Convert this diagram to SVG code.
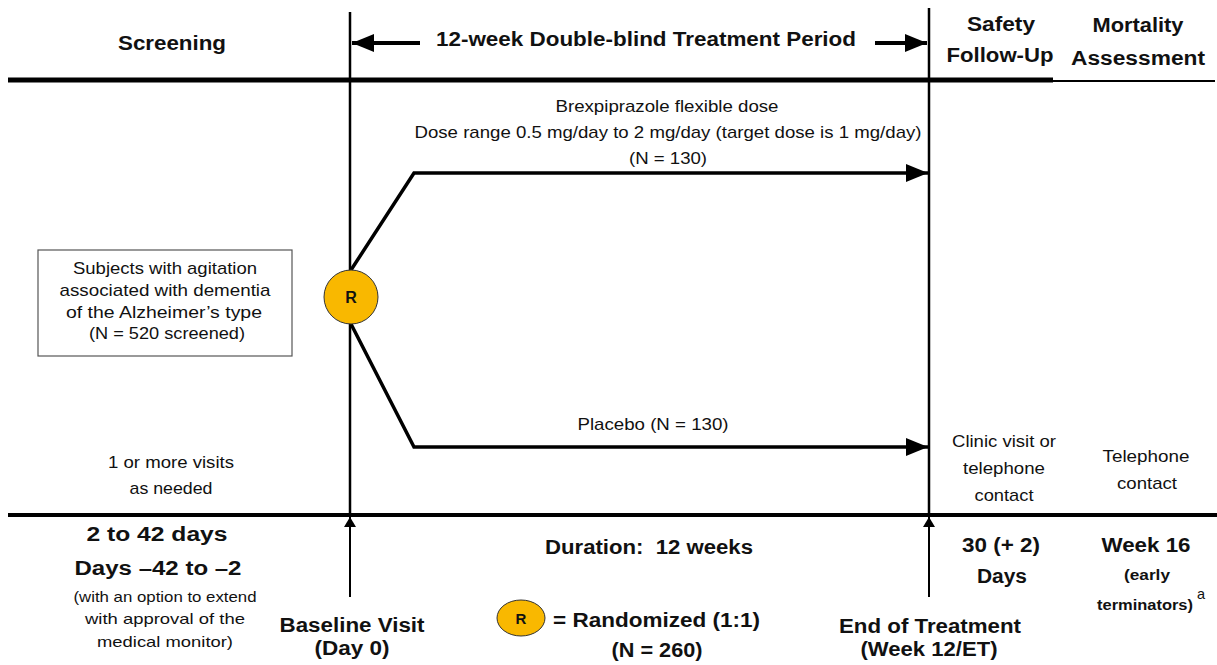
<svg xmlns="http://www.w3.org/2000/svg" width="1217" height="665" viewBox="0 0 1217 665">
<style>
text{font-family:"Liberation Sans",Arial,sans-serif;fill:#111;text-anchor:middle}
.b{font-weight:bold}
.h{font-size:20px;font-weight:bold}
.r{font-size:17px}
.s{font-size:14.5px}
.ln{stroke:#000;fill:none}
</style>
<defs>
<marker id="ah" markerWidth="22" markerHeight="18" refX="22" refY="9" orient="auto" markerUnits="userSpaceOnUse">
<path d="M0,0 L22,9 L0,18 Z" fill="#000"/>
</marker>
<marker id="as" markerWidth="10" markerHeight="12" refX="10" refY="6" orient="auto" markerUnits="userSpaceOnUse">
<path d="M0,0 L10,6 L0,12 Z" fill="#000"/>
</marker>
</defs>
<g id="frame">
<line class="ln" x1="8" y1="80" x2="1053" y2="80" stroke-width="5"/>
<line class="ln" x1="1053" y1="81" x2="1215" y2="81" stroke-width="2" stroke="#333"/>
<line class="ln" x1="8" y1="515" x2="1217" y2="515" stroke-width="4"/>
<line class="ln" x1="350" y1="12" x2="350" y2="515" stroke-width="2.5"/>
<line class="ln" x1="929" y1="8" x2="929" y2="515" stroke-width="2.5"/>
</g>
<g id="connectors">
<line class="ln" x1="420" y1="43" x2="352" y2="43" stroke-width="4" marker-end="url(#ah)"/>
<line class="ln" x1="875" y1="43" x2="927" y2="43" stroke-width="4" marker-end="url(#ah)"/>
<polyline class="ln" points="351,270 414,173 928,173" stroke-width="3.5" marker-end="url(#ah)"/>
<polyline class="ln" points="351,324 414,447 928,447" stroke-width="3.5" marker-end="url(#ah)"/>
<line class="ln" x1="350" y1="597" x2="350" y2="517" stroke-width="2" marker-end="url(#as)"/>
<line class="ln" x1="929" y1="597" x2="929" y2="517" stroke-width="2" marker-end="url(#as)"/>
</g>
<g id="header">
<text class="h" x="172" y="50" textLength="108" lengthAdjust="spacingAndGlyphs">Screening</text>
<text class="h" x="646" y="46" textLength="420" lengthAdjust="spacingAndGlyphs">12-week Double-blind Treatment Period</text>
<text class="h" x="1001" y="31" textLength="68" lengthAdjust="spacingAndGlyphs">Safety</text>
<text class="h" x="1000" y="62" textLength="107" lengthAdjust="spacingAndGlyphs">Follow-Up</text>
<text class="h" x="1138" y="32" textLength="91" lengthAdjust="spacingAndGlyphs">Mortality</text>
<text class="h" x="1138" y="65" textLength="134" lengthAdjust="spacingAndGlyphs">Assessment</text>
</g>
<g id="randomization">
<circle cx="351" cy="297" r="27" fill="#F9B800" stroke="#333" stroke-width="1"/>
<text class="b" x="351" y="303" font-size="16">R</text>
</g>
<g id="brex-arm">
<text class="r" x="667" y="112" textLength="223" lengthAdjust="spacingAndGlyphs">Brexpiprazole flexible dose</text>
<text class="r" x="668" y="138" textLength="507" lengthAdjust="spacingAndGlyphs">Dose range 0.5 mg/day to 2 mg/day (target dose is 1 mg/day)</text>
<text class="r" x="668" y="164" textLength="78" lengthAdjust="spacingAndGlyphs">(N = 130)</text>
</g>
<g id="placebo-arm">
<text class="r" x="653" y="430" textLength="151" lengthAdjust="spacingAndGlyphs">Placebo (N = 130)</text>
</g>
<g id="subjects">
<rect x="38" y="250" width="254" height="106" fill="#fff" stroke="#555" stroke-width="1.2"/>
<text class="r" x="165" y="274" textLength="184" lengthAdjust="spacingAndGlyphs">Subjects with agitation</text>
<text class="r" x="165" y="296" textLength="211" lengthAdjust="spacingAndGlyphs">associated with dementia</text>
<text class="r" x="164" y="318" textLength="196" lengthAdjust="spacingAndGlyphs">of the Alzheimer’s type</text>
<text class="r" x="167" y="339" textLength="156" lengthAdjust="spacingAndGlyphs">(N = 520 screened)</text>
</g>
<g id="visits">
<text class="r" x="171" y="468" textLength="126" lengthAdjust="spacingAndGlyphs">1 or more visits</text>
<text class="r" x="171" y="494" textLength="83" lengthAdjust="spacingAndGlyphs">as needed</text>
</g>
<g id="safety-contact">
<text class="r" x="1004" y="447" textLength="104" lengthAdjust="spacingAndGlyphs">Clinic visit or</text>
<text class="r" x="1004" y="474" textLength="82" lengthAdjust="spacingAndGlyphs">telephone</text>
<text class="r" x="1004" y="501" textLength="59" lengthAdjust="spacingAndGlyphs">contact</text>
</g>
<g id="mortality-contact">
<text class="r" x="1146" y="462" textLength="87" lengthAdjust="spacingAndGlyphs">Telephone</text>
<text class="r" x="1147" y="489" textLength="60" lengthAdjust="spacingAndGlyphs">contact</text>
</g>
<g id="screening-duration">
<text class="h" x="157" y="541" textLength="141" lengthAdjust="spacingAndGlyphs">2 to 42 days</text>
<text class="h" x="158" y="575" textLength="167" lengthAdjust="spacingAndGlyphs">Days –42 to –2</text>
<text class="s" x="165" y="602" textLength="183" lengthAdjust="spacingAndGlyphs">(with an option to extend</text>
<text class="s" x="165" y="624" textLength="160" lengthAdjust="spacingAndGlyphs">with approval of the</text>
<text class="s" x="165" y="647" textLength="136" lengthAdjust="spacingAndGlyphs">medical monitor)</text>
</g>
<g id="baseline">
<text class="h" x="352" y="632" textLength="145" lengthAdjust="spacingAndGlyphs">Baseline Visit</text>
<text class="h" x="352" y="655" textLength="75" lengthAdjust="spacingAndGlyphs">(Day 0)</text>
</g>
<g id="duration">
<text class="h" x="649" y="554" textLength="208" lengthAdjust="spacingAndGlyphs" xml:space="preserve">Duration:  12 weeks</text>
</g>
<g id="legend">
<ellipse cx="521" cy="618" rx="24" ry="18" fill="#F9B800" stroke="#333" stroke-width="1"/>
<text class="b" x="521" y="624" font-size="15">R</text>
<text class="h" x="553" y="627" style="text-anchor:start" textLength="207" lengthAdjust="spacingAndGlyphs">= Randomized (1:1)</text>
<text class="h" x="657" y="657" textLength="91" lengthAdjust="spacingAndGlyphs">(N = 260)</text>
</g>
<g id="end-treatment">
<text class="h" x="930" y="633" textLength="182" lengthAdjust="spacingAndGlyphs">End of Treatment</text>
<text class="h" x="929" y="656" textLength="137" lengthAdjust="spacingAndGlyphs">(Week 12/ET)</text>
</g>
<g id="followup-duration">
<text class="h" x="1001" y="552" textLength="78" lengthAdjust="spacingAndGlyphs">30 (+ 2)</text>
<text class="h" x="1002" y="583" textLength="50" lengthAdjust="spacingAndGlyphs">Days</text>
</g>
<g id="week16">
<text class="h" x="1146" y="552" textLength="89" lengthAdjust="spacingAndGlyphs">Week 16</text>
<text class="b s" x="1147" y="580" textLength="46" lengthAdjust="spacingAndGlyphs">(early</text>
<text class="b s" x="1145" y="610" textLength="96" lengthAdjust="spacingAndGlyphs">terminators)</text>
<text class="s" x="1201" y="599" font-size="12">a</text>
</g>
</svg>
